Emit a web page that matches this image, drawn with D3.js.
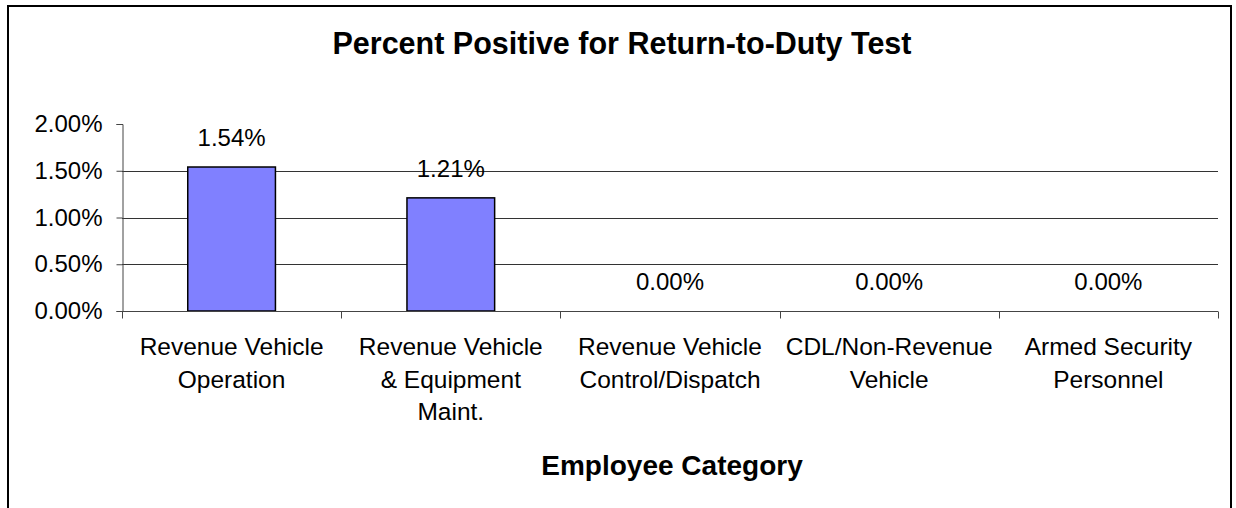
<!DOCTYPE html>
<html>
<head>
<meta charset="utf-8">
<script src="https://cdn.jsdelivr.net/npm/d3@7"></script>
<style>
  body { margin: 0; background: #fff; }
  svg { display: block; font-family: "Liberation Sans", Arial, sans-serif; }
</style>
</head>
<body>
<div id="chart"></div>
<script>
// data
var categories = ["Revenue Vehicle Operation", "Revenue Vehicle & Equipment Maint.",
  "Revenue Vehicle Control/Dispatch", "CDL/Non-Revenue Vehicle", "Armed Security Personnel"];
var categoryLines = [
  ["Revenue Vehicle", "Operation"],
  ["Revenue Vehicle", "& Equipment", "Maint."],
  ["Revenue Vehicle", "Control/Dispatch"],
  ["CDL/Non-Revenue", "Vehicle"],
  ["Armed Security", "Personnel"]
];
var values = [0.0154, 0.0121, 0, 0, 0];
var yTicks = [0, 0.005, 0.01, 0.015, 0.02];

var width = 1236, height = 508;

var svg = d3.select("#chart").append("svg")
  .attr("width", width)
  .attr("height", height);

// chart border
svg.append("rect")
  .attr("x", 8).attr("y", 6)
  .attr("width", 1223).attr("height", 530)
  .attr("fill", "none")
  .attr("stroke", "#000")
  .attr("stroke-width", 2);

var x = d3.scaleBand().domain(categories).range([122, 1218]).padding(0);
var y = d3.scaleLinear().domain([0, 0.02]).range([311, 124]);
var fmt = d3.format(".2%");

// gridlines
svg.append("g").selectAll("line")
  .data(yTicks.filter(function (d) { return d > 0 && d < 0.02; }))
  .enter().append("line")
  .attr("x1", 122).attr("x2", 1218)
  .attr("y1", function (d) { return Math.round(y(d)) + 0.5; })
  .attr("y2", function (d) { return Math.round(y(d)) + 0.5; })
  .attr("stroke", "#333")
  .attr("stroke-width", 1);

// y axis
var yAxis = svg.append("g")
  .attr("transform", "translate(122.5,0)")
  .call(d3.axisLeft(y).tickValues(yTicks).tickFormat(fmt).tickSize(6).tickPadding(14));
yAxis.select(".domain").attr("stroke", "#444");
yAxis.selectAll(".tick line").attr("stroke", "#444");
yAxis.selectAll(".tick text")
  .attr("font-size", 24)
  .attr("font-family", "Liberation Sans, Arial, sans-serif")
  .attr("fill", "#000");

// bars
svg.append("g").selectAll("rect")
  .data(values)
  .enter().append("rect")
  .attr("x", function (d, i) { return x(categories[i]) + x.bandwidth() * 0.3; })
  .attr("width", x.bandwidth() * 0.4)
  .attr("y", function (d) { return y(d); })
  .attr("height", function (d) { return y(0) - y(d); })
  .attr("fill", "#8080ff")
  .attr("stroke", "#000")
  .attr("stroke-width", 1.5);

// x axis
var xAxis = svg.append("g")
  .attr("transform", "translate(0," + (Math.round(y(0)) + 0.5) + ")");
xAxis.append("line")
  .attr("x1", 122).attr("x2", 1218)
  .attr("stroke", "#444");
xAxis.selectAll("line.tick")
  .data(d3.range(categories.length + 1))
  .enter().append("line")
  .attr("class", "tick")
  .attr("x1", function (i) { return Math.round(122 + i * x.step()) + 0.5; })
  .attr("x2", function (i) { return Math.round(122 + i * x.step()) + 0.5; })
  .attr("y1", 0).attr("y2", 7)
  .attr("stroke", "#444");

// category labels
var labels = svg.append("g").selectAll("text")
  .data(categoryLines)
  .enter().append("text")
  .attr("text-anchor", "middle")
  .attr("font-size", 24.5)
  .attr("fill", "#000");
labels.each(function (lines, i) {
  var cx = x(categories[i]) + x.bandwidth() / 2;
  d3.select(this).selectAll("tspan")
    .data(lines)
    .enter().append("tspan")
    .attr("x", cx)
    .attr("y", function (d, j) { return 355 + j * 32.7; })
    .text(function (d) { return d; });
});

// value labels
svg.append("g").selectAll("text")
  .data(values)
  .enter().append("text")
  .attr("x", function (d, i) { return x(categories[i]) + x.bandwidth() / 2; })
  .attr("y", function (d) { return y(d) - 21; })
  .attr("text-anchor", "middle")
  .attr("font-size", 24)
  .attr("fill", "#000")
  .text(function (d) { return fmt(d); });

// titles
svg.append("text")
  .attr("x", 622).attr("y", 54)
  .attr("text-anchor", "middle")
  .attr("font-size", 30.5)
  .attr("font-weight", "bold")
  .text("Percent Positive for Return-to-Duty Test");

svg.append("text")
  .attr("x", 672).attr("y", 475)
  .attr("text-anchor", "middle")
  .attr("font-size", 28)
  .attr("font-weight", "bold")
  .text("Employee Category");
</script>
</body>
</html>
